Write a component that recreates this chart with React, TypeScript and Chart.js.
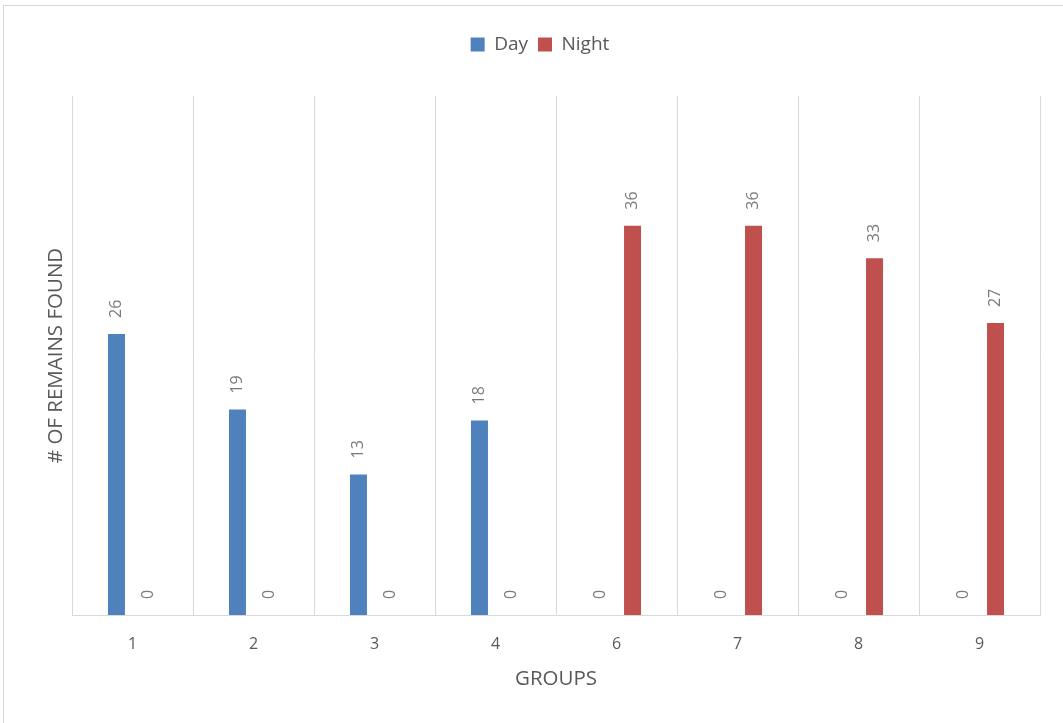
import React, { useEffect, useRef } from 'react';
import { Chart, registerables } from 'chart.js';

Chart.register(...registerables);

const groups = ['1', '2', '3', '4', '6', '7', '8', '9'];
const dayValues = [26, 19, 13, 18, 0, 0, 0, 0];
const nightValues = [0, 0, 0, 0, 36, 36, 33, 27];
const seriesNames = ['Day', 'Night'];
const yAxisTitle = '# OF REMAINS FOUND';
const xAxisTitle = 'GROUPS';
const yMax = 48;

const FONT = '"Open Sans", "Noto Sans", sans-serif';

export default function App() {
  const ref = useRef<HTMLCanvasElement>(null);

  useEffect(() => {
    document.body.style.margin = '0';
    document.body.style.overflow = 'hidden';
    const canvas = ref.current;
    if (!canvas) return;

    const frame = {
      id: 'frame',
      beforeDraw(chart: any) {
        const ctx = chart.ctx;
        ctx.save();
        ctx.fillStyle = '#ffffff';
        ctx.fillRect(0, 0, chart.width, chart.height);
        ctx.strokeStyle = '#d9d9d9';
        ctx.lineWidth = 1;
        ctx.strokeRect(3.5, 5.5, chart.width + 20, chart.height + 20);
        ctx.restore();
      },
    };

    const legendSpacer = {
      id: 'legendSpacer',
      beforeLayout(chart: any) {
        const lg = chart.legend;
        if (lg && !lg._patched) {
          const f = lg.fit;
          lg.fit = function () {
            f.call(this);
            this.height += 32;
          };
          lg._patched = true;
        }
      },
    };

    const dataLabels = {
      id: 'dataLabels',
      afterDatasetsDraw(chart: any) {
        const ctx = chart.ctx;
        ctx.save();
        ctx.font = `16px ${FONT}`;
        ctx.fillStyle = '#7a7a7a';
        chart.data.datasets.forEach((ds: any, i: number) => {
          const meta = chart.getDatasetMeta(i);
          meta.data.forEach((el: any, j: number) => {
            const v = ds.data[j];
            ctx.save();
            ctx.translate(el.x, el.y - 16);
            ctx.rotate(-Math.PI / 2);
            ctx.textAlign = 'left';
            ctx.textBaseline = 'middle';
            ctx.fillText(String(v), 0, 0);
            ctx.restore();
          });
        });
        ctx.restore();
      },
    };

    const chart = new Chart(canvas, {
      type: 'bar',
      data: {
        labels: groups,
        datasets: [
          {
            label: seriesNames[0],
            data: dayValues,
            backgroundColor: '#4F81BD',
            categoryPercentage: 0.53,
            barPercentage: 0.53,
          },
          {
            label: seriesNames[1],
            data: nightValues,
            backgroundColor: '#C0504D',
            categoryPercentage: 0.53,
            barPercentage: 0.53,
          },
        ],
      },
      options: {
        responsive: false,
        animation: false,
        layout: { padding: { left: 40, right: 23, top: 25, bottom: 28 } },
        plugins: {
          legend: {
            position: 'top',
            labels: {
              boxWidth: 14,
              boxHeight: 14,
              padding: 10,
              color: '#595959',
              font: { family: FONT, size: 19 },
            },
          },
          tooltip: { enabled: false },
        },
        scales: {
          x: {
            grid: { color: '#d9d9d9', lineWidth: 1, drawTicks: false, offset: true },
            border: { color: '#d9d9d9' },
            ticks: { color: '#595959', padding: 20, font: { family: FONT, size: 16 } },
            title: {
              display: true,
              text: xAxisTitle,
              color: '#595959',
              font: { family: FONT, size: 20.5 },
            },
            afterFit(scale: any) {
              scale.height = 80;
            },
          },
          y: {
            min: 0,
            max: yMax,
            grid: { display: false },
            border: { display: false },
            ticks: { display: false },
            title: {
              display: true,
              text: yAxisTitle,
              color: '#595959',
              font: { family: FONT, size: 20.5 },
            },
            afterFit(scale: any) {
              scale.width = 32;
            },
          },
        },
      },
      plugins: [frame, legendSpacer, dataLabels],
    } as any);

    return () => chart.destroy();
  }, []);

  return (
    <div style={{ position: 'absolute', left: 0, top: 0, width: 1063, height: 723 }}>
      <canvas ref={ref} width={1063} height={723} style={{ display: 'block' }} />
    </div>
  );
}
